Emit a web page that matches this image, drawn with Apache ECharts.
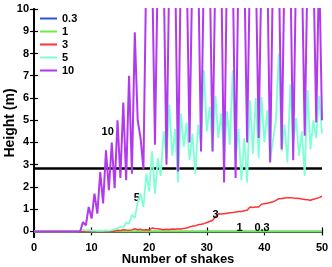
<!DOCTYPE html>
<html><head><meta charset="utf-8">
<script src="https://cdn.jsdelivr.net/npm/echarts@6/dist/echarts.min.js"></script>
<style>html,body{margin:0;padding:0;background:#fff}#c{width:332px;height:267px}</style>
</head><body><div id="c"></div>
<script>
// x positions: number of shakes, every half shake from 0 to 50
const shakes = Array.from({length: 101}, (_, i) => i * 0.5);
const seriesNames = ['0.3', '1', '3', '5', '10'];
const yTicks = [0,1,2,3,4,5,6,7,8,9,10];
const xTicks = [0,10,20,30,40,50];
const h03 = [
0,0,0,0,0,0,0,0,0,0, 0,0,0,0,0,0,0,0,0,0,
0,0,0,0,0,0,0,0,0,0, 0,0,0,0,0,0,0,0,0,0,
0,0,0,0,0,0,0,0,0,0, 0,0,0,0,0,0,0,0,0,0,
0,0,0,0,0,0,0,0,0,0, 0,0,0,0,0,0,0,0,0,0,
0,0,0,0,0,0,0,0,0,0, 0,0,0,0,0,0,0,0,0,0, 0];
const h1 = [
0,0,0,0,0,0,0,0,0,0, 0,0,0,0,0,0,0,0,0,0,
0,0,0,0,0,0,0,0,0,0, 0,0,0,0,0,0,0,0,0,0,
0,0,0,0,0,0,0,0,0,0, 0,0,0,0,0,0,0,0,0,0,
0,0,0,0,0,0,0,0,0,0, 0,0,0,0,0,0,0,0,0,0,
0,0,0,0,0,0,0,0,0,0, 0,0,0,0,0,0,0,0,0,0, 0];
const h3 = [
0,0,0,0,0,0,0,0,0,0, 0,0,0,0,0,0,0,0,0,0,
0,0,0,0,0,0,0,0,0.02,0.05, 0.04,0.08,0.06,0.05,0.07,0.12,0.08,0.1,0.06,0.08,
0.07,0.15,0.13,0.12,0.1,0.08,0.1,0.09,0.11,0.1, 0.12,0.11,0.13,0.15,0.2,0.24,0.25,0.3,0.32,0.35,
0.4,0.45,0.5,0.65,0.8,0.78,0.8,0.82,0.84,0.85, 0.87,0.9,0.9,0.93,0.95,1.1,1.08,1.1,1.1,1.22,
1.25,1.27,1.3,1.33,1.4,1.47,1.48,1.5,1.52,1.52, 1.5,1.49,1.48,1.46,1.44,1.42,1.4,1.45,1.48,1.52, 1.58];
const h5 = [
0,0,0,0,0,0,0,0,0,0, 0,0,0,0,0,0,0.05,0.08,0.05,0.06,
0.04,0.05,0.03,0.04,0.03,0.05,0.04,0.06,0.1,0.15, 0.2,0.18,0.4,0.35,0.75,0.6,1.3,1.7,1.1,2.6,
1.8,3.6,1.7,3.3,2.5,4.5,3.3,5.7,3.4,4.6, 2.2,5.3,3.8,4.9,3.2,4.4,2.6,4.8,3.9,7.25,
4.5,5.6,3.6,6.1,4.2,5.3,3.4,5.4,3.9,7.25, 3.2,4.6,2.3,4.2,2.2,5.9,3.5,6.0,3.3,6.05,
4.0,5.45,3.2,4.1,5.0,8.0,3.6,4.8,3.1,6.6, 3.9,5.1,3.4,4.5,2.5,6.35,3.7,5.0,4.2,6.1, 4.4];
const h10 = [
0,0,0,0,0,0,0,0,0,0, 0,0,0,0,0,0,0,0.42,0.27,1.1,
0.58,1.7,0.8,2.67,1.26,3.65,1.85,4.0,1.94,5.0, 2.4,5.8,2.3,7.0,2.6,8.95,5.0,4.2,2.8,12,
12,12,3.9,12,12,12,3.0,12,12,12, 2.7,12,12,12,4.0,12,12,12,3.6,12,
12,12,3.6,12,12,12,2.2,12,12,12, 2.4,12,12,12,4.0,12,12,12,4.2,12,
12,12,3.1,12,12,12,3.7,12,12,12, 3.2,12,12,12,4.3,12,12,12,4.9,12, 5.0];
const values = [h03, h1, h3, h5, h10];
const colors = ['#2b4fe6', '#6ee84a', '#ff3333', '#7fffd4', '#b23aee'];
const widths = [1.5, 2, 1.5, 1.8, 2];
// curve labels [x, y] in data units
const curveLabels = [[39.6, 0.14], [35.7, 0.14], [31.5, 0.72], [17.85, 1.49], [12.8, 4.47]];
const breakLevel = 2.85;

const chart = echarts.init(document.getElementById('c'));
const font = 'Liberation Sans, Arial, sans-serif';
const series = seriesNames.map((n, k) => ({
  name: n, type: 'line', showSymbol: false, animation: false, clip: true,
  data: shakes.map((x, i) => [x, values[k][i]]),
  lineStyle: {color: colors[k], width: widths[k]},
  itemStyle: {color: colors[k]},
  z: 2 + k,
  markPoint: {
    symbol: 'circle', symbolSize: 1, silent: true, animation: false,
    itemStyle: {color: 'rgba(0,0,0,0)'},
    label: {show: true, position: 'inside', color: '#000', fontWeight: 'bold', fontSize: 11, fontFamily: font, formatter: n},
    data: [{coord: curveLabels[k]}]
  }
}));
series.push({
  name: 'break', type: 'line', data: [], z: 10, animation: false,
  markLine: {silent: true, symbol: 'none', animation: false,
    lineStyle: {color: '#000', width: 2.5, type: 'solid'},
    label: {show: false}, data: [{yAxis: breakLevel}]}
});
const tickStyle = {inside: true, length: 4, lineStyle: {color: '#000', width: 1.2}};
chart.setOption({
  animation: false,
  grid: {left: 34, right: 10, top: 9, bottom: 30, containLabel: false, outerBoundsMode: 'none'},
  legend: {
    data: seriesNames, orient: 'vertical', left: 40, top: 12, itemGap: 0, padding: 0,
    itemWidth: 17, itemHeight: 2, icon: 'rect',
    textStyle: {fontSize: 11, fontWeight: 'bold', fontFamily: font, color: '#000', lineHeight: 13}
  },
  xAxis: [{
    type: 'value', min: 0, max: 50, interval: 10, position: 'bottom',
    name: 'Number of shakes', nameLocation: 'middle', nameGap: 16, nameMoveOverlap: false,
    nameTextStyle: {fontSize: 13, fontWeight: 'bold', fontFamily: font, color: '#000'},
    axisLine: {show: true, lineStyle: {color: '#000', width: 2}},
    axisTick: tickStyle, splitLine: {show: false},
    axisLabel: {fontSize: 11, fontWeight: 'bold', fontFamily: font, color: '#000', margin: 5}
  }, {
    type: 'value', min: 0, max: 50, interval: 10, position: 'top',
    axisLine: {show: true, lineStyle: {color: '#000', width: 2}},
    axisTick: tickStyle, splitLine: {show: false}, axisLabel: {show: false}
  }],
  yAxis: [{
    type: 'value', min: -0.25, max: 10, position: 'left',
    name: 'Height (m)', nameLocation: 'middle', nameGap: 17, nameMoveOverlap: false,
    nameTextStyle: {fontSize: 14, fontWeight: 'bold', fontFamily: font, color: '#000'},
    axisLine: {show: true, lineStyle: {color: '#000', width: 2}},
    axisTick: Object.assign({customValues: yTicks}, tickStyle), splitLine: {show: false},
    axisLabel: {customValues: yTicks, fontSize: 11, fontWeight: 'bold', fontFamily: font, color: '#000', margin: 5}
  }, {
    type: 'value', min: -0.25, max: 10, position: 'right',
    axisLine: {show: true, lineStyle: {color: '#000', width: 2}},
    axisTick: Object.assign({customValues: yTicks}, tickStyle), splitLine: {show: false},
    axisLabel: {show: false}
  }],
  series: series
});
</script></body></html>
